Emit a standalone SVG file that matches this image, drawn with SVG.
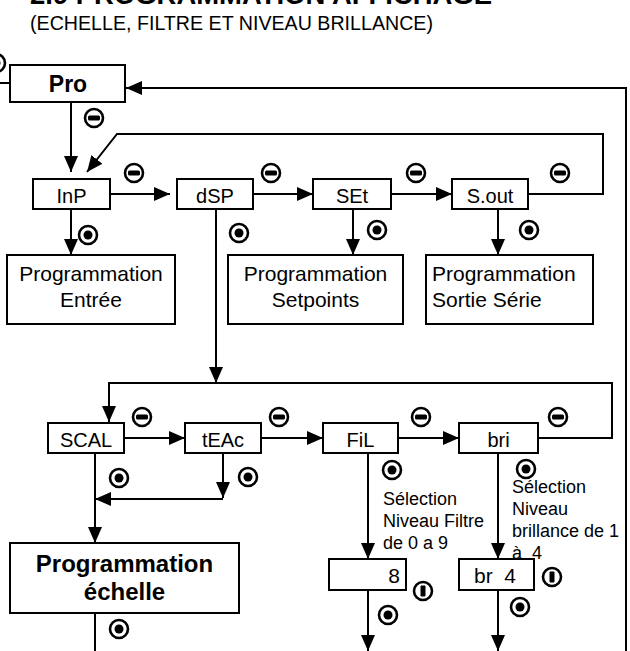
<svg xmlns="http://www.w3.org/2000/svg" width="630" height="651" viewBox="0 0 630 651">
<style>
.box{fill:#fff;stroke:#000;stroke-width:2}
.ln{fill:none;stroke:#000;stroke-width:2}
.t{font-family:"Liberation Sans",Arial,sans-serif;font-size:20px;fill:#000}
.p{font-size:21px}
.tc{text-anchor:middle}
.b{font-weight:bold}
.n{font-family:"Liberation Sans",Arial,sans-serif;font-size:18px;fill:#000}
.sym{fill:#fff;stroke:#000;stroke-width:2.6}
</style>
<defs>
<marker id="ah" viewBox="0 0 16 14" refX="16" refY="7" markerWidth="16" markerHeight="14" markerUnits="userSpaceOnUse" orient="auto">
<path d="M0,0 L16,7 L0,14 z" fill="#000"/>
</marker>
<g id="minus"><circle r="9" class="sym"/><rect x="-6" y="-2.5" width="12" height="5" rx="1.5" fill="#000"/></g>
<g id="enter"><circle r="9" class="sym"/><circle r="4.5" fill="#000"/></g>
<g id="pause"><circle r="9" class="sym"/><rect x="-2.5" y="-5.5" width="5" height="11" rx="1" fill="#000"/></g>
</defs>
<rect width="630" height="651" fill="#fff"/>
<text x="30" y="4" class="t b" style="font-size:28px" textLength="462" lengthAdjust="spacingAndGlyphs">2.9 PROGRAMMATION AFFICHAGE</text>
<text x="30" y="30" class="t" textLength="403" lengthAdjust="spacingAndGlyphs">(ECHELLE, FILTRE ET NIVEAU BRILLANCE)</text>

<g id="connectors">
<path class="ln" d="M0,83 H10"/>
<path class="ln" d="M71,103 V172" marker-end="url(#ah)"/>
<path class="ln" d="M626,651 V88 H126" marker-end="url(#ah)"/>
<path class="ln" d="M528,194 H603 V134 H117 L87,172" marker-end="url(#ah)"/>
<path class="ln" d="M110,194 H170" marker-end="url(#ah)"/>
<path class="ln" d="M253,194 H313" marker-end="url(#ah)"/>
<path class="ln" d="M391,194 H452" marker-end="url(#ah)"/>
<path class="ln" d="M71,209 V255" marker-end="url(#ah)"/>
<path class="ln" d="M216,209 V383" marker-end="url(#ah)"/>
<path class="ln" d="M353,209 V255" marker-end="url(#ah)"/>
<path class="ln" d="M498,209 V255" marker-end="url(#ah)"/>
<path class="ln" d="M538,438 H612 V383 H109 V422" marker-end="url(#ah)"/>
<path class="ln" d="M124,438 H185" marker-end="url(#ah)"/>
<path class="ln" d="M261,438 H323" marker-end="url(#ah)"/>
<path class="ln" d="M398,438 H459" marker-end="url(#ah)"/>
<path class="ln" d="M95,453 V543" marker-end="url(#ah)"/>
<path class="ln" d="M223,453 V498" marker-end="url(#ah)"/>
<path class="ln" d="M223,499 H95" marker-end="url(#ah)"/>
<path class="ln" d="M95,613 V660"/>
<path class="ln" d="M368,453 V559" marker-end="url(#ah)"/>
<path class="ln" d="M368,590 V651" marker-end="url(#ah)"/>
<path class="ln" d="M498,453 V559" marker-end="url(#ah)"/>
<path class="ln" d="M498,590 V651" marker-end="url(#ah)"/>
</g>

<g id="symbols">
<use href="#enter" x="-4" y="63"/>
<use href="#minus" x="94" y="118"/>
<use href="#minus" x="134" y="173"/>
<use href="#minus" x="271" y="173"/>
<use href="#minus" x="416" y="173"/>
<use href="#minus" x="560" y="173"/>
<use href="#minus" x="142" y="417"/>
<use href="#minus" x="279" y="417"/>
<use href="#minus" x="421" y="417"/>
<use href="#minus" x="558" y="417"/>
<use href="#enter" x="88" y="235"/>
<use href="#enter" x="239" y="233"/>
<use href="#enter" x="377" y="230"/>
<use href="#enter" x="529" y="230"/>
<use href="#enter" x="119" y="478"/>
<use href="#enter" x="248" y="477"/>
<use href="#enter" x="392" y="470"/>
<use href="#enter" x="526" y="469"/>
<use href="#enter" x="119" y="629"/>
<use href="#enter" x="388" y="615"/>
<use href="#enter" x="520" y="607"/>
<use href="#pause" x="423" y="591"/>
<use href="#pause" x="552" y="577"/>
</g>

<g id="pro"><rect class="box" x="10" y="65" width="115" height="37"/><text x="68" y="92" class="t tc b" style="font-size:23px">Pro</text></g>
<g id="inp"><rect class="box" x="33" y="179" width="77" height="30"/><text x="71.5" y="203" class="t tc">InP</text></g>
<g id="dsp"><rect class="box" x="177" y="179" width="76" height="30"/><text x="215" y="203" class="t tc">dSP</text></g>
<g id="set"><rect class="box" x="313" y="179" width="78" height="30"/><text x="352" y="203" class="t tc">SEt</text></g>
<g id="sout"><rect class="box" x="452" y="179" width="76" height="30"/><text x="490" y="203" class="t tc">S.out</text></g>
<g id="prog-entree"><rect class="box" x="7" y="255" width="168" height="69"/><text x="91" y="281" class="t p tc">Programmation</text><text x="91" y="307" class="t p tc">Entrée</text></g>
<g id="prog-setpoints"><rect class="box" x="228" y="255" width="175" height="69"/><text x="315.5" y="281" class="t p tc">Programmation</text><text x="315.5" y="307" class="t p tc">Setpoints</text></g>
<g id="prog-sortie"><rect class="box" x="426" y="255" width="167" height="69"/><text x="432" y="281" class="t p">Programmation</text><text x="432" y="307" class="t p">Sortie Série</text></g>
<g id="scal"><rect class="box" x="48" y="423" width="76" height="30"/><text x="86" y="447" class="t tc">SCAL</text></g>
<g id="teac"><rect class="box" x="185" y="423" width="76" height="30"/><text x="223" y="447" class="t tc">tEAc</text></g>
<g id="fil"><rect class="box" x="323" y="423" width="75" height="30"/><text x="360.5" y="447" class="t tc">FiL</text></g>
<g id="bri"><rect class="box" x="459" y="423" width="79" height="30"/><text x="498.5" y="447" class="t tc">bri</text></g>
<g id="prog-echelle"><rect class="box" x="10" y="543" width="229" height="70"/><text x="124.5" y="572" class="t tc b" style="font-size:24px">Programmation</text><text x="124.5" y="600" class="t tc b" style="font-size:24px">échelle</text></g>
<g id="val8"><rect class="box" x="329" y="559" width="77" height="31"/><text x="400" y="583" class="t p" text-anchor="end">8</text></g>
<g id="br4"><rect class="box" x="459" y="559" width="75" height="31"/><text x="474" y="583" class="t p" style="white-space:pre">br  4</text></g>
<g id="notes">
<text class="n" x="383" y="505">Sélection</text>
<text class="n" x="383" y="527">Niveau Filtre</text>
<text class="n" x="383" y="549">de 0 a 9</text>
<text class="n" x="512" y="493">Sélection</text>
<text class="n" x="512" y="515">Niveau</text>
<text class="n" x="512" y="537">brillance de 1</text>
<text class="n" x="512" y="559" style="white-space:pre">à  4</text>
</g>
</svg>
